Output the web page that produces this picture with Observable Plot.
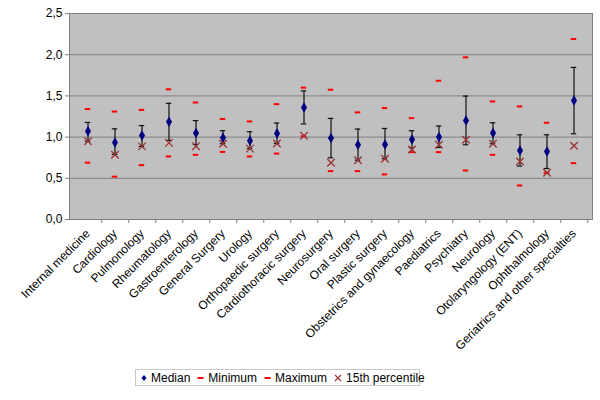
<!DOCTYPE html>
<html>
<head>
<meta charset="utf-8">
<script src="https://cdn.jsdelivr.net/npm/d3@7"></script>
<script src="https://cdn.jsdelivr.net/npm/@observablehq/plot@0.6"></script>
<style>
  body { margin: 0; background: white; font-family: "Liberation Sans", Arial, sans-serif; }
  #legend {
    margin-left: 135px; margin-top: 4px; width: 285px; height: 17px;
    border: 1px solid #c8c8c8; display: flex; align-items: center;
    font-size: 12px; color: #000; box-sizing: border-box; padding-left: 5px; white-space: nowrap;
  }
  #legend .item { display: inline-flex; align-items: center; margin-right: 7px; }
  #legend svg { margin-right: 4px; }
</style>
</head>
<body>
<div id="chart"></div>
<div id="legend">
  <span class="item"><svg width="6" height="8"><path d="M3,1L5.5,4L3,7L0.5,4Z" fill="#000080"/></svg>Median</span>
  <span class="item"><svg width="7" height="8"><line x1="0.5" x2="6.5" y1="4" y2="4" stroke="#ff0000" stroke-width="2"/></svg>Minimum</span>
  <span class="item"><svg width="7" height="8"><line x1="0.5" x2="6.5" y1="4" y2="4" stroke="#ff0000" stroke-width="2"/></svg>Maximum</span>
  <span class="item"><svg width="8" height="8"><path d="M1,1L7,7M7,1L1,7" stroke="#993333" stroke-width="1.2"/></svg>15th percentile</span>
</div>
<script>
const categories = ["Internal medicine","Cardiology","Pulmonology","Rheumatology","Gastroenterology","General Surgery","Urology","Orthopaedic surgery","Cardiothoracic surgery","Neurosurgery","Oral surgery","Plastic surgery","Obstetrics and gynaecology","Paediatrics","Psychiatry","Neurology","Otolaryngology (ENT)","Ophthalmology","Geriatrics and other specialties"];
const median  = [1.07, 0.935, 1.02, 1.186, 1.05, 0.992, 0.955, 1.045, 1.36, 0.988, 0.907, 0.91, 0.972, 1.00, 1.202, 1.049, 0.838, 0.826, 1.445];
const errHigh = [1.178, 1.10, 1.14, 1.41, 1.20, 1.077, 1.065, 1.17, 1.56, 1.227, 1.097, 1.105, 1.077, 1.134, 1.498, 1.174, 1.028, 1.028, 1.846];
const errLow  = [0.95, 0.79, 0.887, 0.96, 0.91, 0.92, 0.86, 0.923, 1.16, 0.749, 0.72, 0.737, 0.87, 0.874, 0.907, 0.919, 0.648, 0.619, 1.04];
const minimum = [0.69, 0.52, 0.66, 0.765, 0.785, 0.82, 0.765, 0.80, 1.01, 0.587, 0.587, 0.547, 0.818, 0.818, 0.595, 0.785, 0.413, 0.567, 0.684];
const maximum = [1.34, 1.31, 1.33, 1.58, 1.42, 1.22, 1.19, 1.40, 1.60, 1.575, 1.30, 1.352, 1.23, 1.684, 1.968, 1.433, 1.372, 1.174, 2.19];
const pct15   = [0.95, 0.785, 0.887, 0.93, 0.89, 0.92, 0.86, 0.923, 1.016, 0.688, 0.72, 0.737, 0.85, 0.907, 0.968, 0.919, 0.704, 0.567, 0.895];
const yTicks  = [0, 0.5, 1.0, 1.5, 2.0, 2.5];

const rows = categories.map((c, i) => ({
  cat: c, median: median[i], lo: errLow[i], hi: errHigh[i],
  min: minimum[i], max: maximum[i], p15: pct15[i]
}));

const W = 600, H = 365, mL = 69, mR = 8;
const band = (W - mL - mR) / categories.length;
const ins = (band - 6) / 2;
const capIns = (band - 6) / 2;

const chart = Plot.plot({
  width: W, height: H,
  marginLeft: mL, marginRight: mR, marginTop: 13, marginBottom: 146,
  style: { fontFamily: "'Liberation Sans', Arial, sans-serif", fontSize: "12px", color: "#000", background: "white", overflow: "visible" },
  x: { type: "band", domain: categories, padding: 0, label: null },
  y: { domain: [0, 2.5], label: null },
  marks: [
    Plot.frame({ fill: "#c0c0c0", stroke: "#808080" }),
    Plot.gridY({ ticks: yTicks, stroke: "#808080", strokeOpacity: 1 }),
    Plot.axisY({ ticks: yTicks, tickFormat: d => d.toFixed(1).replace(".", ","), tickSize: 4, tickPadding: 3, label: null, stroke: "#808080" }),
    Plot.axisX({ tickSize: 0, tickRotate: -45, tickPadding: 12, label: null }),
    Plot.axisX({ tickSize: 4, tickFormat: () => "", dx: band / 2, label: null, stroke: "#808080" }),
    Plot.ruleX(rows, { x: "cat", y1: "lo", y2: "hi", stroke: "#111", strokeWidth: 1.2 }),
    Plot.tickY(rows, { x: "cat", y: "lo", stroke: "#111", strokeWidth: 1.2, insetLeft: capIns, insetRight: capIns }),
    Plot.tickY(rows, { x: "cat", y: "hi", stroke: "#111", strokeWidth: 1.2, insetLeft: capIns, insetRight: capIns }),
    Plot.dot(rows, { x: "cat", y: "median", symbol: "diamond", fill: "#000080", r: 3.2 }),
    Plot.tickY(rows, { x: "cat", y: "min", stroke: "#ff0000", strokeWidth: 2, insetLeft: ins, insetRight: ins }),
    Plot.tickY(rows, { x: "cat", y: "max", stroke: "#ff0000", strokeWidth: 2, insetLeft: ins, insetRight: ins }),
    Plot.dot(rows, { x: "cat", y: "p15", symbol: "times", stroke: "#993333", strokeWidth: 1.3, r: 3.5 })
  ]
});
document.getElementById("chart").appendChild(chart);
</script>
</body>
</html>
